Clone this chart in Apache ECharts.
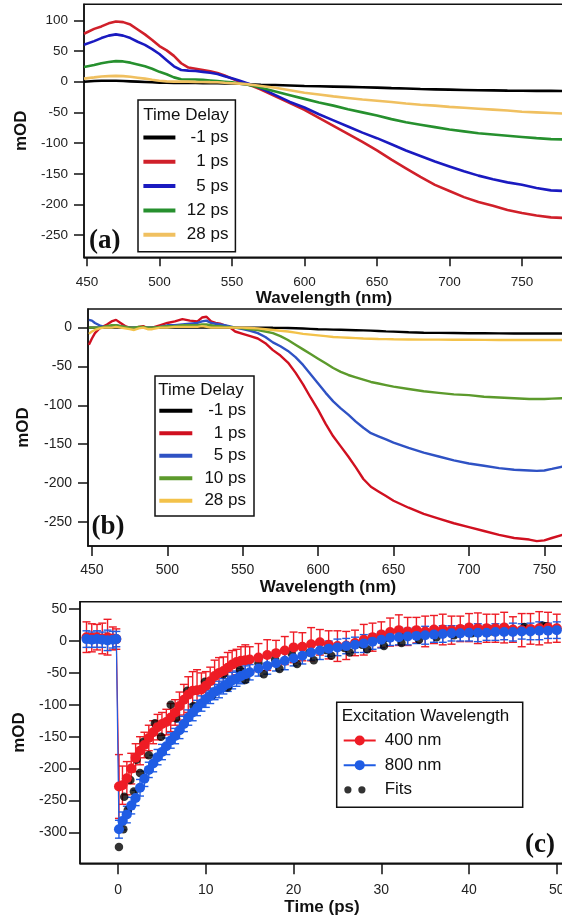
<!DOCTYPE html>
<html><head><meta charset="utf-8">
<script src="https://cdn.jsdelivr.net/npm/echarts@6/dist/echarts.min.js"></script>
<style>html,body{margin:0;padding:0;background:#fff}#c{width:562px;height:922px}</style>
</head><body><div id="c"></div>
<script>
// ---------- Panel (a) ----------
const wlA = [448,455,460,465,470,475,480,485,490,495,500,505,510,515,520,525,530,535,540,545,550,555,560,565,570,580,590,600,610,620,630,640,650,660,670,680,690,700,710,720,730,740,750,760,770,779];
const aM1 = [0,1,1.5,1.5,1.5,1,0.5,0,-0.5,-1,-1.5,-1.8,-2,-2,-2,-2.2,-2.3,-2.4,-2.5,-2.8,-3,-3.5,-4,-4.5,-5,-5.5,-6.2,-7,-7.5,-8,-8.5,-9,-9.7,-10.5,-11.2,-12,-12.5,-13,-13.5,-14,-14.2,-14.5,-14.7,-15,-15,-15.2];
const a1 = [78,86,90,95,98,97,93,85,77,68,58,51,42,30,23,21,19,17,14,10,5,0,-4,-8,-13,-24,-35,-46,-59,-72,-85,-98,-112,-127,-141,-155,-168,-178,-188,-196,-202,-209,-214,-218,-221,-222];
const a5 = [60,66,71,75,77,75,71,65,60,53,45,35,25,19,18,17.5,16,14.5,12.5,9,5.5,2,-2,-6,-11,-22,-33,-42,-53,-63,-73,-83,-92,-102,-112,-121,-130,-138,-146,-153,-159,-164,-168,-173,-177,-178];
const a12 = [24,27,30,32,33.5,33,31,28,25,21,16,12,7,4,3.5,3.5,3,2,1,0,-1,-3,-4.5,-7,-10,-16,-22,-28,-34,-39,-45,-50,-55,-61,-66,-70,-74,-78,-81,-84,-86,-88,-90,-92,-93.5,-94];
const a28 = [5,7,8.5,9,9.5,9,8,6.5,5,3,1.5,0.5,0,0,0,-0.3,-0.5,-0.8,-1,-1.8,-2.5,-3.2,-4,-5.5,-7,-10,-14,-18,-21,-24,-26.5,-29,-31,-33,-35.5,-37.5,-39,-41,-42.5,-44,-45.5,-47,-49,-50,-51,-52];
const namesA = ['-1 ps','1 ps','5 ps','12 ps','28 ps'];

// ---------- Panel (b) ----------
const wlB = [448,450,452,455,458,460,463,466,469,472,475,478,481,484,487,490,495,500,505,510,515,520,523,526,529,532,535,538,541,545,550,555,560,565,570,575,580,585,590,595,600,605,610,615,620,625,630,635,640,645,650,660,670,680,690,700,710,720,730,740,745,750,755,762];
const bM1 = [0,0,0,0,0,0,0,0,0,0, 0,0,0,0,0,0,0,0,0,0, 0,0,0,0,0,0,0,0,0,0, 0,0,0,0,-0.2,-0.3,-0.5,-0.8,-1.2,-1.6, -2,-2.3,-2.6,-2.8,-3,-3.3,-3.6,-3.9,-4.3,-4.8, -5.2,-6,-6.5,-6.8,-7,-7.2,-7.3,-7.4,-7.5,-7.5, -7.5,-7.6,-7.6,-7.6];
const b1 = [-22,-14,-7,-1,2,4,8,10,6,2, 0,-2,1,2,-1,0,3,6,8,11, 9,8,13,14,8,6,5,3,1,-5, -8,-11,-14,-20,-29,-36,-45,-58,-73,-90, -106,-124,-140,-153,-166,-180,-195,-205,-211,-217, -223,-232,-240,-246,-252,-257,-262,-267,-271,-273, -275,-274,-271,-267];
const b5 = [10,9,6,3,1,1,2,3,2,1, 0,0,0,0,0,0,1,3,3,4, 5,6,8,9,6,5,4,3,2,0, -2,-4,-7,-12,-19,-24,-30,-38,-48,-60, -72,-84,-95,-104,-112,-121,-129,-136,-140,-144, -148,-155,-161,-166,-171,-175,-178,-181,-183,-184, -184.5,-184,-182,-179];
const b10 = [0,0,0,0,1,2,3,3,2,1, 0,0,1,1,0,0,1,2,2,3, 3,3,4,4,3,2,2,1,1,0, -1,-2,-3,-5,-7,-11,-16,-22,-28,-34, -40,-46,-52,-57,-61,-64,-67,-70,-72,-74, -76,-79,-82,-84,-86,-87,-89,-90,-91,-92, -92,-92,-91.5,-91];
const b28 = [-8,-5,-3,-1,0,0,0,1,0,-1, -2,-3,-1,0,-2,-2,0,0,1,1, 1,1,2,1,0,0,0,0,0,0, 0,-0.5,-1,-2,-3,-4,-5,-6.5,-8,-9, -10,-11,-12,-12.5,-13,-13.5,-14,-14.3,-14.6,-14.8, -15,-15.2,-15.4,-15.5,-15.6,-15.7,-15.8,-15.9,-16,-16, -16,-16,-16,-16];
const namesB = ['-1 ps','1 ps','5 ps','10 ps','28 ps'];

// ---------- Panel (c) ----------
const tC = [-3.6,-3.0,-2.4,-1.8,-1.2,-0.6,-0.2, 0.1,0.5,1.0,1.5,2.0,2.5,3.0,3.5,4.0,4.5,5.0,5.5,6.0,6.5,7.0,7.5,8.0,8.5,9.0,9.5,10,10.5,11,11.5,12,12.5,13,13.5,14,14.5,15, 16,17,18,19,20,21,22,23,24,25,26,27,28,29,30,31,32,33,34,35,36,37,38,39,40,41,42,43,44,45,46,47,48,49,50];
const red400 = [6,5,6,4,6,4,3, -228,-226,-215,-200,-183,-172,-163,-152,-143,-135,-130,-127,-120,-112,-102,-92,-84,-78,-77,-76,-70,-63,-55,-50,-47,-42,-37,-33,-31,-30,-29, -26,-22,-19,-15,-10,-9,-5,-2,-6,-8,-7,-3,2,6,10,14,17,15,17,15,18,18,17,19,21,20,20,20,21,18,17,19,20,21,20];
const errRed = [24,22,20,24,28,18,16, 50,30,26,24,22,22,20,20,18,20,18,20,22,20,22,24,28,30,32,26,22,22,25,24,22,24,22,20,22,24,20, 22,24,20,22,24,22,26,20,22,24,22,20,24,22,20,22,24,22,20,24,22,24,22,20,22,24,22,22,24,20,26,24,26,24,22];
const blue800 = [3,2,3,2,1,2,3, -295,-282,-272,-258,-246,-230,-216,-202,-192,-182,-174,-165,-156,-149,-140,-130,-120,-112,-105,-98,-91,-86,-80,-76,-71,-67,-62,-59,-55,-52,-49, -43,-39,-35,-31,-27,-23,-18,-15,-12,-10,-8,-6,-4,-1,2,5,6,7,8,9,10,11,12,12,13,13,13,14,14,14,15,15,16,16,17];
const errBlue = [13,12,13,12,16,13,12, 14,14,13,13,12,13,12,12,13,12,12,13,12,12,13,12,12,13,12,12,13,12,12,13,12,12,13,12,12,13,12, 12,13,12,14,12,13,12,14,12,13,12,12,14,12,13,12,12,13,12,14,12,13,12,12,13,14,12,13,12,14,12,13,14,12,13];
const tFit400 = [0.7,1.4,2.1,2.9,4.2,6.0,7.9,9.9,12.0,13.9,16.0,17.9,19.8,21.8,23.7,25.8,27.8,30.4,32.5,34.5,36.6,38.4,40.4,42.5,44.3,46.3,48.4];
const fit400 = [-244,-218,-186,-158,-129,-100,-78,-64,-52,-45,-35,-29,-20,-18,-14,-11,-6,4,8,11,13,12,14,18,18,22,24];
const tFit800 = [0.1,0.6,1.1,1.8,2.5,3.5,4.9,6.6,8.6,10.7,12.5,14.5,16.6,18.4,20.4,22.3,24.3,26.4,28.4,30.3,32.3,34.3,36.3,38.3,40.3,42.4,44.3,46.3,48.8];
const fit800 = [-323,-295,-265,-236,-207,-179,-150,-121,-102,-85,-73,-61,-52,-44,-36,-30,-23,-18,-13,-8,-3,2,6,9,12,15,17,19,23];

// ---------- ticks ----------
const ticksWl = [450,500,550,600,650,700,750];
const ticksYA = [-250,-200,-150,-100,-50,0,50,100];
const ticksYB = [-250,-200,-150,-100,-50,0];
const ticksXC = [0,10,20,30,40,50];
const ticksYC = [-300,-250,-200,-150,-100,-50,0,50];

const zip = (xs, ys) => xs.map((x, i) => [x, ys[i]]);
const FONT = 'Liberation Sans, Arial, sans-serif';
const SERIF = 'Liberation Serif, Times New Roman, serif';

function xAx(gi, min, max, ticks, margin, tickLen, name, nameGap, fs) {
  return {
    type: 'value', gridIndex: gi, min, max, position: 'bottom',
    axisLine: {show: true, onZero: false, lineStyle: {color: '#111', width: 1.5}},
    axisTick: {show: true, inside: false, length: tickLen, customValues: ticks, lineStyle: {color: '#111', width: 1.5}},
    axisLabel: {customValues: ticks, margin, color: '#222', fontSize: fs, fontFamily: FONT, hideOverlap: false},
    splitLine: {show: false},
    name, nameLocation: 'middle', nameGap,
    nameTextStyle: {fontWeight: 'bold', fontSize: 17, color: '#111', fontFamily: FONT}
  };
}
function yAx(gi, min, max, ticks, margin, tickLen, nameGap, fs) {
  return {
    type: 'value', gridIndex: gi, min, max,
    axisLine: {show: true, onZero: false, lineStyle: {color: '#111', width: 1.5}},
    axisTick: {show: true, inside: false, length: tickLen, customValues: ticks, lineStyle: {color: '#111', width: 1.5}},
    axisLabel: {customValues: ticks, margin, color: '#222', fontSize: fs, fontFamily: FONT},
    splitLine: {show: false},
    name: 'mOD', nameLocation: 'middle', nameGap,
    nameTextStyle: {fontWeight: 'bold', fontSize: 17, color: '#111', fontFamily: FONT}
  };
}
function lineS(prefix, name, xs, ys, color, idx, w) {
  return {
    type: 'line', name: prefix + name, xAxisIndex: idx, yAxisIndex: idx,
    data: zip(xs, ys), symbol: 'none', showSymbol: false,
    lineStyle: {color, width: w}, itemStyle: {color}, silent: true, clip: true
  };
}
function errS(ts, vs, es, color) {
  return {
    type: 'custom', xAxisIndex: 2, yAxisIndex: 2, silent: true,
    data: ts.map((t, i) => [t, vs[i] - es[i], vs[i] + es[i]]),
    encode: {x: 0, y: [1, 2]},
    renderItem(params, api) {
      const x = api.value(0);
      const lo = api.coord([x, api.value(1)]);
      const hi = api.coord([x, api.value(2)]);
      const w = 4, st = {stroke: color, lineWidth: 1.4};
      return {type: 'group', children: [
        {type: 'line', shape: {x1: lo[0], y1: lo[1], x2: hi[0], y2: hi[1]}, style: st},
        {type: 'line', shape: {x1: hi[0] - w, y1: hi[1], x2: hi[0] + w, y2: hi[1]}, style: st},
        {type: 'line', shape: {x1: lo[0] - w, y1: lo[1], x2: lo[0] + w, y2: lo[1]}, style: st}
      ]};
    }
  };
}
const stripName = n => n.replace(/^[ab]:/, '');
const colA = ['#000000', '#d0202a', '#1a1ac0', '#26902e', '#f0c060'];
const colB = ['#000000', '#d01020', '#2f52c4', '#5c9a2c', '#f3c24a'];
const RED = '#ee1c25', BLUE = '#1f5ce4';

const seriesA = [aM1, a1, a5, a12, a28].map((d, i) => lineS('a:', namesA[i], wlA, d, colA[i], 0, 2.6));
const seriesB = [bM1, b1, b5, b10, b28].map((d, i) => lineS('b:', namesB[i], wlB, d, colB[i], 1, 2.4));

const fitsIcon = 'path://M0,0 L32,0 Z M0,12 L32,12 Z M0.6,6 a3.6,3.6 0 1,0 7.2,0 a3.6,3.6 0 1,0 -7.2,0 Z M14.6,6 a3.6,3.6 0 1,0 7.2,0 a3.6,3.6 0 1,0 -7.2,0 Z';

const gridBase = {show: true, borderColor: '#111', borderWidth: 1.5, backgroundColor: 'transparent', containLabel: false, outerBoundsMode: 'none'};

const option = {
  animation: false,
  backgroundColor: '#fff',
  grid: [
    Object.assign({left: 84, top: 4.3, width: 480, height: 253}, gridBase),
    Object.assign({left: 88, top: 309, width: 480, height: 237}, gridBase),
    Object.assign({left: 80, top: 601.7, width: 484, height: 261.6}, gridBase)
  ],
  xAxis: [
    xAx(0, 448, 779, ticksWl, 18, 9, 'Wavelength (nm)', 29, 13.5),
    xAx(1, 447.4, 765.7, ticksWl, 17.5, 10, 'Wavelength (nm)', 31.5, 14),
    xAx(2, -4.34, 50.82, ticksXC, 20, 11, 'Time (ps)', 36, 14)
  ],
  yAxis: [
    yAx(0, -286, 126, ticksYA, 16, 10, 54, 13.5),
    yAx(1, -281.3, 24, ticksYB, 16, 10, 56, 14),
    yAx(2, -348.4, 61.6, ticksYC, 13, 11, 49, 14)
  ],
  legend: [
    {
      orient: 'vertical', left: 138, top: 100, padding: [29, 7, 8.6, 5.4],
      itemWidth: 32, itemHeight: 4, itemGap: 7.3, icon: 'rect', selectedMode: false,
      backgroundColor: '#fff', borderColor: '#111', borderWidth: 1.5,
      data: namesA.map(n => 'a:' + n),
      formatter: n => '{r|' + stripName(n) + '}',
      textStyle: {color: '#111', fontFamily: FONT, fontSize: 17,
        rich: {r: {width: 48, align: 'right', fontSize: 17, lineHeight: 14, fontFamily: FONT, color: '#111'}}}
    },
    {
      orient: 'vertical', left: 155, top: 376, padding: [26.3, 8, 6.7, 4.3],
      itemWidth: 33, itemHeight: 4, itemGap: 5.5, icon: 'rect', selectedMode: false,
      backgroundColor: '#fff', borderColor: '#111', borderWidth: 1.5,
      data: namesB.map(n => 'b:' + n),
      formatter: n => '{r|' + stripName(n) + '}',
      textStyle: {color: '#111', fontFamily: FONT, fontSize: 17,
        rich: {r: {width: 48.7, align: 'right', fontSize: 17, lineHeight: 14, fontFamily: FONT, color: '#111'}}}
    },
    {
      orient: 'vertical', left: 336.7, top: 702.3, padding: [29.7, 8, 9, 6],
      itemWidth: 32, itemHeight: 12.5, itemGap: 7.65, selectedMode: false,
      backgroundColor: '#fff', borderColor: '#111', borderWidth: 1.5,
      data: [{name: '400 nm'}, {name: '800 nm'}, {name: 'Fits', icon: fitsIcon, itemStyle: {borderWidth: 0}}],
      formatter: n => '{r|' + n + '}',
      textStyle: {color: '#111', fontFamily: FONT, fontSize: 17,
        rich: {r: {width: 130, align: 'left', padding: [0, 0, 0, 4], fontSize: 17, lineHeight: 14, fontFamily: FONT, color: '#111'}}}
    }
  ],
  graphic: [
    {type: 'text', left: 143.3, top: 106.5, z: 100, style: {text: 'Time Delay', fill: '#111', font: '17px ' + FONT}},
    {type: 'text', left: 158.3, top: 381.5, z: 100, style: {text: 'Time Delay', fill: '#111', font: '17px ' + FONT}},
    {type: 'text', left: 341.7, top: 708, z: 100, style: {text: 'Excitation Wavelength', fill: '#111', font: '17px ' + FONT}},
    {type: 'text', left: 89, top: 228, z: 100, style: {text: '(a)', fill: '#111', font: 'bold 27px ' + SERIF}},
    {type: 'text', left: 91.4, top: 514, z: 100, style: {text: '(b)', fill: '#111', font: 'bold 27px ' + SERIF}},
    {type: 'text', left: 525, top: 831.5, z: 100, style: {text: '(c)', fill: '#111', font: 'bold 27px ' + SERIF}}
  ],
  series: [
    ...seriesA,
    ...seriesB,
    errS(tC, red400, errRed, RED),
    {type: 'line', name: '400 nm', xAxisIndex: 2, yAxisIndex: 2, data: zip(tC, red400),
      symbol: 'circle', symbolSize: 10, showSymbol: true, showAllSymbol: true,
      lineStyle: {color: RED, width: 1.2}, itemStyle: {color: RED}, silent: true},
    errS(tC, blue800, errBlue, BLUE),
    {type: 'line', name: '800 nm', xAxisIndex: 2, yAxisIndex: 2, data: zip(tC, blue800),
      symbol: 'circle', symbolSize: 10, showSymbol: true, showAllSymbol: true,
      lineStyle: {color: BLUE, width: 1.2}, itemStyle: {color: BLUE}, silent: true},
    {type: 'scatter', name: 'Fits', xAxisIndex: 2, yAxisIndex: 2, data: zip(tFit400, fit400),
      symbol: 'circle', symbolSize: 8.5, itemStyle: {color: '#000'}, silent: true},
    {type: 'scatter', name: 'Fits', xAxisIndex: 2, yAxisIndex: 2, data: zip(tFit800, fit800),
      symbol: 'circle', symbolSize: 8.5, itemStyle: {color: '#000'}, silent: true}
  ]
};
const chart = echarts.init(document.getElementById('c'), null, {renderer: 'canvas'});
chart.setOption(option);
</script>
</body></html>
